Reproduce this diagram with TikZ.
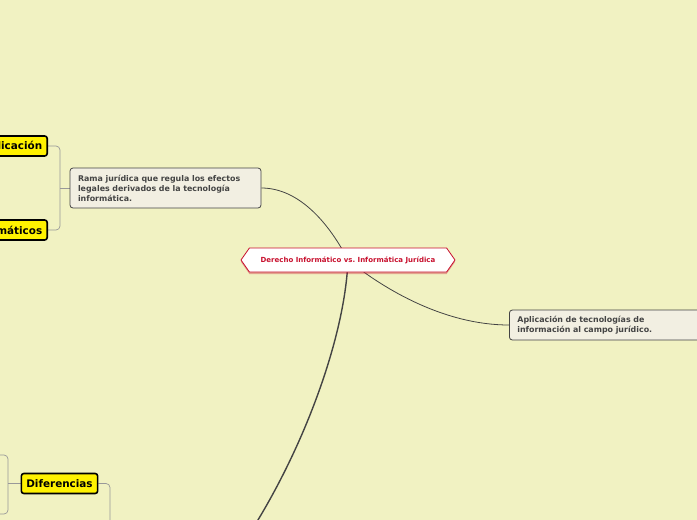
\documentclass[tikz,border=0pt]{standalone}
\usepackage{fontspec}
\newfontfamily\mapfont{DejaVu Sans}
\usetikzlibrary{positioning,shapes.symbols,shadows,backgrounds}
\definecolor{mapbg}{RGB}{241,242,194}
\definecolor{topicfill}{RGB}{242,239,226}
\definecolor{topicline}{RGB}{68,68,68}
\definecolor{centralred}{RGB}{200,16,46}
\frenchspacing

\begin{document}
\begin{tikzpicture}[
    x=1pt, y=-1pt,
    central_topic/.style={signal, signal to=east and west, signal pointer angle=110, draw=centralred, thick, fill=white, text=centralred, minimum width=214pt, minimum height=24pt, inner sep=0pt, font=\mapfont\bfseries\fontsize{7}{8}\selectfont, drop shadow={shadow xshift=0pt, shadow yshift=-2pt, fill=centralred, opacity=0.35}},
    main_topic/.style={rectangle, draw=topicline, thick, fill=topicfill, rounded corners=3pt, text=topicline, align=left, inner xsep=8pt, inner ysep=4pt, font=\mapfont\bfseries\fontsize{7.9}{10}\selectfont},
    yellow_topic/.style={rectangle, draw=black, line width=1.6pt, fill=yellow, rounded corners=2.5pt, minimum height=20pt, inner xsep=5pt, font=\mapfont\bfseries\fontsize{10.4}{12}\selectfont},
    curve/.style={draw=topicline, line width=0.8pt},
    thick_curve/.style={draw=topicline, line width=1.4pt},
    bracket/.style={draw=black!40, line width=0.7pt, rounded corners=4pt}
]
\useasboundingbox (0,0) rectangle (697,520);

% Central topic
\node[central_topic] (central) at (348,260) {Derecho Informático vs. Informática Jurídica};

% Main topics
\node[main_topic, text width=175pt, minimum height=40pt] (rama) at (165.5,188) {Rama jurídica que regula los efectos\\legales derivados de la tecnología\\informática.};
\node[main_topic, anchor=west, text width=190pt, minimum height=30pt] (aplicacion) at (509,325) {Aplicación de tecnologías de\\información al campo jurídico.};

% Subtopics (cut at the left border)
\node[yellow_topic, anchor=east] (campo) at (48,146) {Campo de aplicación};
\node[yellow_topic, anchor=east] (delitos) at (48,230) {Delitos informáticos};
\node[yellow_topic] (diferencias) at (59.5,483.5) {Diferencias};

% Loose ends outside the page
\coordinate (abajo) at (240,548);
\coordinate (dif_arriba) at (-10,455);
\coordinate (dif_abajo) at (-10,514);
\coordinate (dif_sub) at (110,540);

\begin{scope}[on background layer]
\fill[mapbg] (0,0) rectangle (697,520);

% Curves from the central topic
\draw[curve] (central.center) .. controls (330,225) and (300,188) .. (rama.east);
\draw[curve] (central.center) .. controls (385,290) and (445,325) .. (aplicacion.west);
\draw[thick_curve] (central.center) .. controls (345,340) and (300,460) .. (abajo);

% Brackets to the subtopics
\draw[bracket] (campo.east) -- (60,146) -- (60,230) -- (delitos.east);
\draw[bracket] (rama.west) -- (60,188);
\draw[bracket] (dif_arriba) -- (8,455) -- (8,514) -- (dif_abajo);
\draw[bracket] (diferencias.west) -- (8,483.5);
\draw[bracket] (diferencias.east) -- (110,483.5) -- (dif_sub);
\end{scope}

\end{tikzpicture}
\end{document}
